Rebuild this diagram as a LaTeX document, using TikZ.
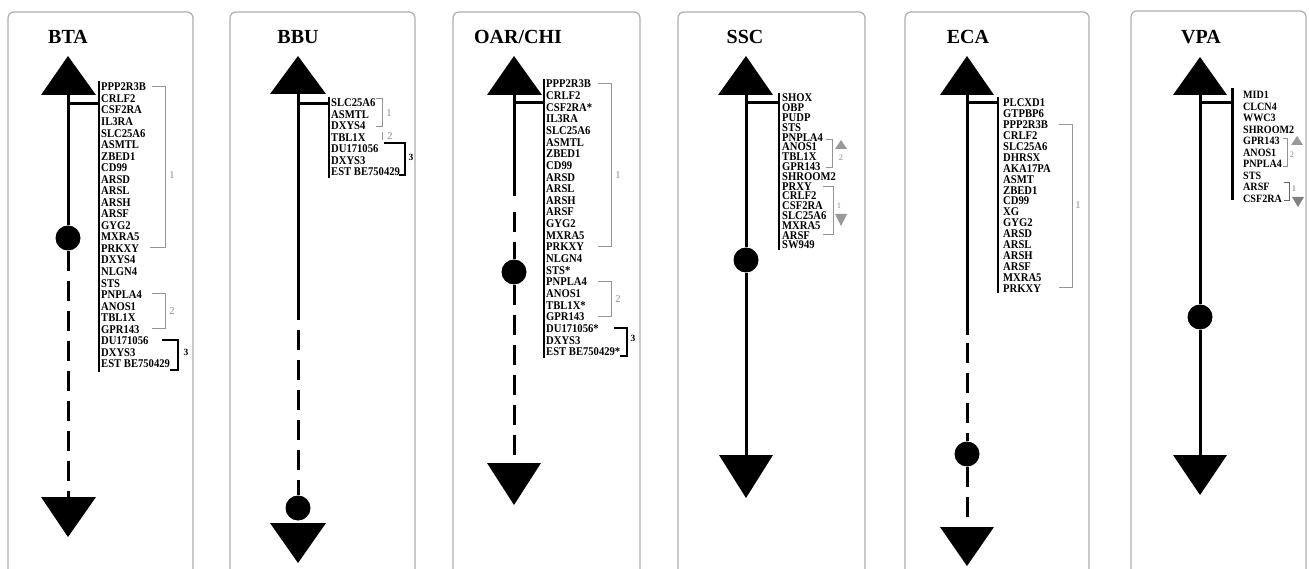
\documentclass[tikz,border=0pt]{standalone}
\usepackage{fontspec}
\setmainfont{Liberation Serif}
\newfontfamily\genefont[FakeStretch=0.9]{Liberation Serif}
\begin{document}
\begin{tikzpicture}[x=1pt,y=-1pt,
  panel/.style={draw=black!32, line width=1.2pt, rounded corners=6pt},
  title/.style={font=\bfseries\fontsize{20}{20}\selectfont, inner sep=0},
  gene/.style={font=\genefont\bfseries\fontsize{11.8}{11.8}\selectfont, anchor=west, inner sep=0},
  axis/.style={line width=3pt},
  dashaxis/.style={line width=3pt, dash pattern=on 20pt off 10pt},
  dot/.style={circle, fill=black, inner sep=0, minimum size=25pt},
  bar/.style={line width=3pt},
  listbar/.style={line width=1.2pt},
  gbr/.style={draw=black!42, line width=1pt},
  bbr/.style={draw=black, line width=1.1pt},
  glab/.style={text=black!45, font=\fontsize{10.5}{10.5}\selectfont, inner sep=0},
  slab/.style={text=black!45, font=\fontsize{8.5}{8.5}\selectfont, inner sep=0},
  blab/.style={font=\bfseries\fontsize{9.5}{9.5}\selectfont, inner sep=0},
  gtri/.style={fill=black!40}
]
\useasboundingbox (0,0) rectangle (1309,569);
\clip (0,0) rectangle (1309,569);

% ---------------- panels ----------------
\draw[panel] (8,12) rectangle (193,600);
\draw[panel] (230,12) rectangle (415,600);
\draw[panel] (453,12) rectangle (640,600);
\draw[panel] (678,12) rectangle (865,600);
\draw[panel] (905,12) rectangle (1089,600);
\draw[panel] (1131,11) rectangle (1306,600);

% ---------------- BTA ----------------
\node[title] (t1) at (68,37) {BTA};
\fill (68,56) -- (96,95) -- (41,95) -- cycle;
\coordinate (a1top) at (68,95);
\node[dot] (c1) at (68,238) {};
\coordinate (a1bot) at (68,497);
\fill (41,497) -- (96,497) -- (68,537) -- cycle;
\draw[axis] (a1top) -- (c1);
\draw[dashaxis] (c1.south) -- (a1bot);
\draw[bar] (68,104) -- (99,104);
\draw[listbar] (99,81) -- (99,372);
\foreach \g [count=\i from 0] in {PPP2R3B,CRLF2,CSF2RA,IL3RA,SLC25A6,ASMTL,ZBED1,CD99,ARSD,ARSL,ARSH,ARSF,GYG2,MXRA5,PRKXY,DXYS4,NLGN4,STS,PNPLA4,ANOS1,TBL1X,GPR143,DU171056,DXYS3,EST BE750429}
  \node[gene] (g1-\i) at (101,{87+11.54*\i}) {\g};
\draw[gbr] (152,87) -- (165,87) -- (165,248) -- (150,248);
\node[glab] at (172,175) {1};
\draw[gbr] (152,294) -- (165,294) -- (165,328) -- (152,328);
\node[glab] at (172,311) {2};
\draw[bbr] (162,340) -- (178,340) -- (178,370) -- (170,370);
\node[blab] at (186,352) {3};

% ---------------- BBU ----------------
\node[title] (t2) at (298,37) {BBU};
\fill (298,56) -- (326,94) -- (270,94) -- cycle;
\coordinate (a2top) at (298,94);
\coordinate (a2mid) at (298,320);
\node[dot] (c2) at (298,508) {};
\coordinate (a2bot) at (298,523);
\fill (270,523) -- (326,523) -- (298,563) -- cycle;
\draw[axis] (a2top) -- (a2mid);
\draw[dashaxis] ([yshift=-10pt]a2mid) -- (c2.north);
\draw[bar] (298,104) -- (329,104);
\draw[listbar] (329,97) -- (329,178);
\foreach \g [count=\i from 0] in {SLC25A6,ASMTL,DXYS4,TBL1X,DU171056,DXYS3,EST BE750429}
  \node[gene] (g2-\i) at (331,{103+11.5*\i}) {\g};
\draw[gbr] (376,99) -- (382,99) -- (382,127) -- (376,127);
\node[glab] at (389,113) {1};
\draw[gbr] (382,132) -- (382,140);
\node[glab] at (390,136) {2};
\draw[bbr] (384,143) -- (405,143) -- (405,175) -- (399,175);
\node[blab] at (411,157) {3};

% ---------------- OAR/CHI ----------------
\node[title] (t3) at (518,37) {OAR/CHI};
\fill (514,56) -- (542,95) -- (487,95) -- cycle;
\coordinate (a3top) at (514,95);
\coordinate (a3mid) at (514,196);
\node[dot] (c3) at (514,272) {};
\coordinate (a3bot) at (514,463);
\fill (487,463) -- (541,463) -- (514,505) -- cycle;
\draw[axis] (a3top) -- (a3mid);
\draw[dashaxis] ([yshift=-16pt]a3mid) -- (c3.north);
\draw[dashaxis] (c3.south) -- (a3bot);
\draw[bar] (514,103) -- (544,103);
\draw[listbar] (544,79) -- (544,358);
\foreach \g [count=\i from 0] in {PPP2R3B,CRLF2,CSF2RA*,IL3RA,SLC25A6,ASMTL,ZBED1,CD99,ARSD,ARSL,ARSH,ARSF,GYG2,MXRA5,PRKXY,NLGN4,STS*,PNPLA4,ANOS1,TBL1X*,GPR143,DU171056*,DXYS3,EST BE750429*}
  \node[gene] (g3-\i) at (546,{84+11.65*\i}) {\g};
\draw[gbr] (598,84) -- (611,84) -- (611,247) -- (598,247);
\node[glab] at (618,175) {1};
\draw[gbr] (598,282) -- (611,282) -- (611,317) -- (598,317);
\node[glab] at (618,299) {2};
\draw[bbr] (614,328) -- (627,328) -- (627,356) -- (620,356);
\node[blab] at (633,338) {3};

% ---------------- SSC ----------------
\node[title] (t4) at (745,37) {SSC};
\fill (746,56) -- (773,95) -- (718,95) -- cycle;
\coordinate (a4top) at (746,95);
\node[dot] (c4) at (746,260) {};
\coordinate (a4bot) at (746,455);
\fill (719,455) -- (773,455) -- (746,498) -- cycle;
\draw[axis] (a4top) -- (c4);
\draw[axis] (c4) -- (a4bot);
\draw[bar] (746,103) -- (779,103);
\draw[listbar] (779,93) -- (779,250);
\foreach \g [count=\i from 0] in {SHOX,OBP,PUDP,STS,PNPLA4,ANOS1,TBL1X,GPR143,SHROOM2,PRXY,CRLF2,CSF2RA,SLC25A6,MXRA5,ARSF,SW949}
  \node[gene] (g4-\i) at (782,{98+9.8*\i}) {\g};
\draw[gbr] (826,140) -- (832,140) -- (832,168) -- (826,168);
\fill[gtri] (841,140) -- (847,149) -- (835,149) -- cycle;
\node[slab] at (841,158) {2};
\draw[gbr] (823,187) -- (833,187) -- (833,235) -- (823,235);
\node[slab] at (839,206) {1};
\fill[gtri] (835,214) -- (847,214) -- (841,226) -- cycle;

% ---------------- ECA ----------------
\node[title] (t5) at (968,37) {ECA};
\fill (967,56) -- (994,95) -- (940,95) -- cycle;
\coordinate (a5top) at (967,95);
\coordinate (a5mid) at (967,335);
\node[dot] (c5) at (967,454) {};
\coordinate (a5bot) at (967,527);
\fill (940,527) -- (994,527) -- (967,566) -- cycle;
\draw[axis] (a5top) -- (a5mid);
\draw[dashaxis] ([yshift=-8pt]a5mid) -- (c5.north);
\draw[dashaxis] (c5.south) -- (a5bot);
\draw[bar] (967,103) -- (998,103);
\draw[listbar] (998,97) -- (998,293);
\foreach \g [count=\i from 0] in {PLCXD1,GTPBP6,PPP2R3B,CRLF2,SLC25A6,DHRSX,AKA17PA,ASMT,ZBED1,CD99,XG,GYG2,ARSD,ARSL,ARSH,ARSF,MXRA5,PRKXY}
  \node[gene] (g5-\i) at (1003,{103+10.9*\i}) {\g};
\draw[gbr] (1059,125) -- (1072,125) -- (1072,288) -- (1059,288);
\node[glab] at (1078,205) {1};

% ---------------- VPA ----------------
\node[title] (t6) at (1201,37) {VPA};
\fill (1200,57) -- (1227,95) -- (1173,95) -- cycle;
\coordinate (a6top) at (1200,95);
\node[dot] (c6) at (1200,317) {};
\coordinate (a6bot) at (1200,455);
\fill (1173,455) -- (1227,455) -- (1200,495) -- cycle;
\draw[axis] (a6top) -- (c6);
\draw[axis] (c6) -- (a6bot);
\draw[bar] (1200,103) -- (1232,103);
\draw[bar] (1232,88) -- (1232,200);
\foreach \g [count=\i from 0] in {MID1,CLCN4,WWC3,SHROOM2,GPR143,ANOS1,PNPLA4,STS,ARSF,CSF2RA}
  \node[gene, font=\genefont\bfseries\fontsize{11.2}{11.2}\selectfont] (g6-\i) at (1243,{95+11.5*\i}) {\g};
\draw[gbr] (1283,139) -- (1287,139) -- (1287,167) -- (1283,167);
\fill[gtri] (1297,136) -- (1303,145) -- (1291,145) -- cycle;
\node[slab] at (1292,155) {2};
\draw[gbr, draw=black!60] (1284,183) -- (1289,183) -- (1289,201) -- (1284,201);
\node[slab, text=black!55] at (1294,189) {1};
\fill[gtri, fill=black!50] (1292,197) -- (1304,197) -- (1298,207) -- cycle;
\end{tikzpicture}
\end{document}
